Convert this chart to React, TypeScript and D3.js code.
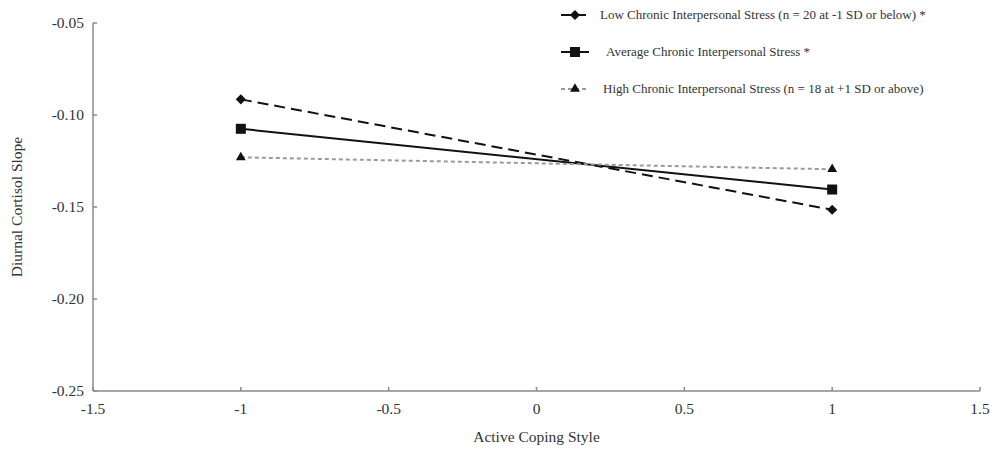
import React from "react";
import * as d3 from "d3";

const xValues = [-1, 1];
const lowStress = [-0.0915, -0.1515];
const avgStress = [-0.1075, -0.1405];
const highStress = [-0.123, -0.1295];
const xTicks = [-1.5, -1, -0.5, 0, 0.5, 1, 1.5];
const yTicks = [-0.05, -0.1, -0.15, -0.2, -0.25];
const legendLabels = [
  "Low Chronic Interpersonal Stress (n = 20 at -1 SD or below) *",
  " Average Chronic Interpersonal Stress *",
  "High Chronic Interpersonal Stress (n = 18 at +1 SD or above)",
];

const W = 996;
const H = 453;
const margin = { top: 23, right: 16, bottom: 62, left: 93 };
const font = "'Liberation Serif', 'Times New Roman', serif";

// hyphen minus like the original, not the unicode minus
const fmtX = (v: number) => String(v);
const fmtY = (v: number) => v.toFixed(2);

export default function App() {
  const x = d3
    .scaleLinear()
    .domain([-1.5, 1.5])
    .range([margin.left, W - margin.right]);
  const y = d3
    .scaleLinear()
    .domain([-0.25, -0.05])
    .range([H - margin.bottom, margin.top]);

  const line = d3
    .line<[number, number]>()
    .x((d) => x(d[0]))
    .y((d) => y(d[1]));

  const series = [
    { vals: lowStress, color: "#111", dash: "11,6", marker: "diamond" },
    { vals: avgStress, color: "#111", dash: "", marker: "square" },
    { vals: highStress, color: "#9a9a9a", dash: "4,3", marker: "triangle" },
  ];

  const marker = (kind: string, cx: number, cy: number, key?: string) => {
    if (kind === "diamond")
      return (
        <rect key={key} x={-3.6} y={-3.6} width={7.2} height={7.2} fill="#111"
          transform={`translate(${cx},${cy}) rotate(45)`} />
      );
    if (kind === "square")
      return <rect key={key} x={cx - 5} y={cy - 5} width={10} height={10} fill="#111" />;
    return (
      <path key={key} d={d3.symbol(d3.symbolTriangle, 42)()!} transform={`translate(${cx},${cy})`} fill="#111" />
    );
  };

  const legendY = [15, 52, 89];
  const legendTextX = [600, 606, 603];

  return (
    <svg
      width={W}
      height={H}
      style={{ position: "fixed", left: 0, top: 0, background: "#fff" }}
      fontFamily={font}
    >
      {/* axes */}
      <g stroke="#8a8a8a" strokeWidth={1.5} fill="none">
        <line x1={x(-1.5)} x2={x(1.5)} y1={y(-0.25)} y2={y(-0.25)} />
        <line x1={x(-1.5)} x2={x(-1.5)} y1={y(-0.25)} y2={y(-0.05)} />
        {xTicks.map((t) => (
          <line key={t} x1={x(t)} x2={x(t)} y1={y(-0.25)} y2={y(-0.25) - 4} />
        ))}
        {yTicks.map((t) => (
          <line key={t} x1={x(-1.5)} x2={x(-1.5) + 4} y1={y(t)} y2={y(t)} />
        ))}
      </g>

      <g fill="#333" fontSize={15.5}>
        {xTicks.map((t) => (
          <text key={t} x={x(t)} y={y(-0.25) + 23} textAnchor="middle">
            {fmtX(t)}
          </text>
        ))}
        {yTicks.map((t) => (
          <text key={t} x={x(-1.5) - 9} y={y(t) + 5} textAnchor="end">
            {fmtY(t)}
          </text>
        ))}
        <text x={(margin.left + W - margin.right) / 2} y={442} textAnchor="middle">
          Active Coping Style
        </text>
        <text
          transform={`translate(22,${(margin.top + H - margin.bottom) / 2}) rotate(-90)`}
          textAnchor="middle"
        >
          Diurnal Cortisol Slope
        </text>
      </g>

      {/* series */}
      {series.map((s, i) => (
        <g key={i}>
          <path
            d={line(xValues.map((v, j) => [v, s.vals[j]]))!}
            fill="none"
            stroke={s.color}
            strokeWidth={2}
            strokeDasharray={s.dash}
          />
          {xValues.map((v, j) => marker(s.marker, x(v), y(s.vals[j]), `${i}-${j}`))}
        </g>
      ))}

      {/* legend */}
      {series.map((s, i) => (
        <g key={i}>
          <line
            x1={561}
            x2={589}
            y1={legendY[i]}
            y2={legendY[i]}
            stroke={s.color}
            strokeWidth={2}
            strokeDasharray={i === 0 ? "13,4,8" : s.dash}
          />
          {marker(s.marker, 575, legendY[i])}
          <text x={legendTextX[i]} y={legendY[i] + 4} fontSize={13} fill="#333">
            {legendLabels[i]}
          </text>
        </g>
      ))}
    </svg>
  );
}
